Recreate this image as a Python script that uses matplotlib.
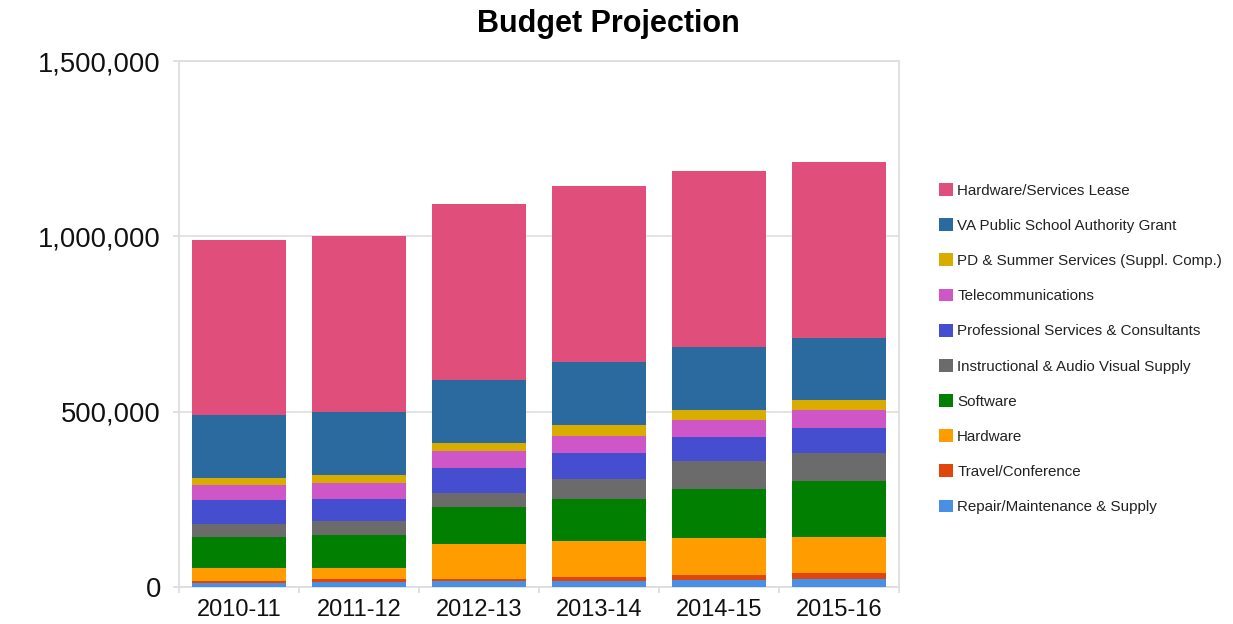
import numpy as np
import matplotlib
matplotlib.use("Agg")
import matplotlib.pyplot as plt
from matplotlib.patches import Patch
from matplotlib.ticker import FuncFormatter, FixedLocator

plt.rcParams['font.family'] = ['Liberation Sans', 'DejaVu Sans']

years = ["2010-11", "2011-12", "2012-13", "2013-14", "2014-15", "2015-16"]

# stacked bottom -> top
repair = [12000, 15000, 17000, 18000, 20000, 23000]
travel = [5000, 7000, 6000, 11000, 14000, 18000]
hardware = [38000, 33000, 100000, 101000, 105000, 103000]
software = [89000, 92000, 105000, 121000, 140000, 157000]
instructional = [36000, 40000, 41000, 58000, 81000, 81000]
prof_services = [67000, 64000, 70000, 73000, 69000, 71000]
telecom = [44000, 47000, 50000, 50000, 48000, 53000]
pd_summer = [19000, 20000, 21000, 29000, 29000, 26000]
va_grant = [180000, 181000, 181000, 182000, 179000, 177000]
lease = [501000, 501000, 500000, 501000, 501000, 502000]

series = [
    ("Repair/Maintenance & Supply", repair, "#4a8fe6"),
    ("Travel/Conference", travel, "#e0460a"),
    ("Hardware", hardware, "#ff9c00"),
    ("Software", software, "#007f00"),
    ("Instructional & Audio Visual Supply", instructional, "#6b6b6b"),
    ("Professional Services & Consultants", prof_services, "#444ecf"),
    ("Telecommunications", telecom, "#cf56c6"),
    ("PD & Summer Services (Suppl. Comp.)", pd_summer, "#d9ac00"),
    ("VA Public School Authority Grant", va_grant, "#2b6a9e"),
    ("Hardware/Services Lease", lease, "#e04e7b"),
]

fig = plt.figure(figsize=(12.33, 6.24), dpi=100)
ax = fig.add_axes([0.1452, 0.0593, 0.5839, 0.8429])

x = np.arange(len(years))
bottom = np.zeros(len(years))
for name, vals, color in series:
    ax.bar(x, vals, width=0.79, bottom=bottom, color=color, zorder=3, linewidth=0)
    bottom += np.array(vals)

ax.set_xlim(-0.5, len(years) - 0.5)
ax.set_ylim(0, 1500000)
ax.set_yticks([0, 500000, 1000000, 1500000])
ax.yaxis.set_major_formatter(FuncFormatter(lambda v, p: f"{int(v):,}"))
ax.set_xticks(x)
ax.set_xticklabels(years)
ax.xaxis.set_minor_locator(FixedLocator(np.arange(-0.5, len(years), 1.0)))

ax.grid(axis='y', color='#dedede', linewidth=1.2, zorder=0)
for s in ax.spines.values():
    s.set_color('#dcdcdc')
    s.set_linewidth(1.2)

ax.tick_params(axis='y', labelsize=19.7, length=4, width=1.2, color='#dcdcdc', pad=9, labelcolor='#111111')
ax.tick_params(axis='x', which='major', labelsize=17, length=0, pad=9, labelcolor='#111111')
ax.tick_params(axis='x', which='minor', length=4, width=1.2, color='#dcdcdc')

fig.text(608 / 1233, 1 - 24 / 624, "Budget Projection", ha='center', va='center',
         fontsize=22, fontweight='bold')

handles = [Patch(facecolor=c, edgecolor='none', label=n) for n, v, c in series[::-1]]
fig.legend(handles=handles, loc='upper left', bbox_to_anchor=(939 / 1233, 1 - 183 / 624),
           frameon=False, fontsize=10.9, labelspacing=1.36, handlelength=0.92,
           handleheight=0.92, handletextpad=0.28, borderpad=0, borderaxespad=0,
           labelcolor='#222222')

fig.savefig("out.png", dpi=100)
